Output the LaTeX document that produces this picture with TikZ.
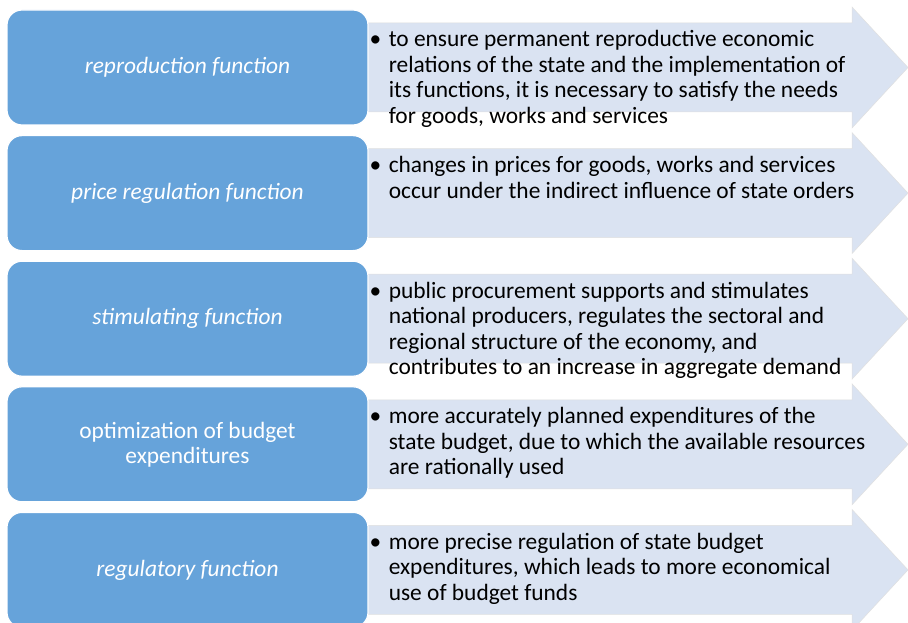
\documentclass[tikz,border=0pt]{standalone}
\usepackage{fontspec}
\setmainfont{Carlito}
\usetikzlibrary{positioning}
\definecolor{funcblue}{RGB}{102,163,218}
\definecolor{arrowblue}{RGB}{218,227,242}
\begin{document}
\begin{tikzpicture}[
    x=1pt, y=-1pt,
    funcbox/.style={rectangle, rounded corners=15pt, minimum width=361pt, minimum height=115pt, fill=funcblue, draw=white, line width=1.2pt, text=white, align=center, font=\fontsize{23.4}{25}\selectfont},
    desc/.style={inner sep=0pt, align=left, anchor=north west, font=\fontsize{23.4}{25.5}\selectfont},
    bulletmark/.style={inner sep=0pt, anchor=north east, font=\fontsize{23.4}{25.5}\selectfont},
    arrowshape/.style={fill=arrowblue, draw=black!12, line width=0.5pt}
]
    \clip (0,0) rectangle (908,623);
    \fill[white] (0,0) rectangle (908,623);
    % arrows behind the boxes
    \foreach \i in {0,...,4} {
        \pgfmathsetmacro\t{10+125.6*\i}
        \path[arrowshape] (355,\t+13) -- (852,\t+13) -- (852,\t-3) -- (908,\t+57.5)
            -- (852,\t+118) -- (852,\t+102) -- (355,\t+102) -- cycle;
    }
    \node[funcbox] (f1) at (187.5,67.5) {\itshape reproduction function};
    \node[funcbox] (f2) at (187.5,193.1) {\itshape price regulation function};
    \node[funcbox] (f3) at (187.5,318.7) {\itshape stimulating function};
    \node[funcbox] (f4) at (187.5,444.3) {optimization of budget\\expenditures};
    \node[funcbox] (f5) at (187.5,569.9) {\itshape regulatory function};

    \node[desc, below right=19.5pt and 20pt of f1.north east] (d1) {\strut to ensure permanent reproductive economic\\relations of the state and the implementation of\\its functions, it is necessary to satisfy the needs\\for goods, works and services};
    \node[desc, below right=19.5pt and 20pt of f2.north east] (d2) {\strut changes in prices for goods, works and services\\occur under the indirect influence of state orders};
    \node[desc, below right=19.5pt and 20pt of f3.north east] (d3) {\strut public procurement supports and stimulates\\national producers, regulates the sectoral and\\regional structure of the economy, and\\contributes to an increase in aggregate demand};
    \node[desc, below right=19.5pt and 20pt of f4.north east] (d4) {\strut more accurately planned expenditures of the\\state budget, due to which the available resources\\are rationally used};
    \node[desc, below right=19.5pt and 20pt of f5.north east] (d5) {\strut more precise regulation of state budget\\expenditures, which leads to more economical\\use of budget funds};

    \foreach \d in {d1,d2,d3,d4,d5}
        \node[bulletmark, xshift=-7pt] at (\d.north west) {\strut\textbullet};
\end{tikzpicture}
\end{document}
